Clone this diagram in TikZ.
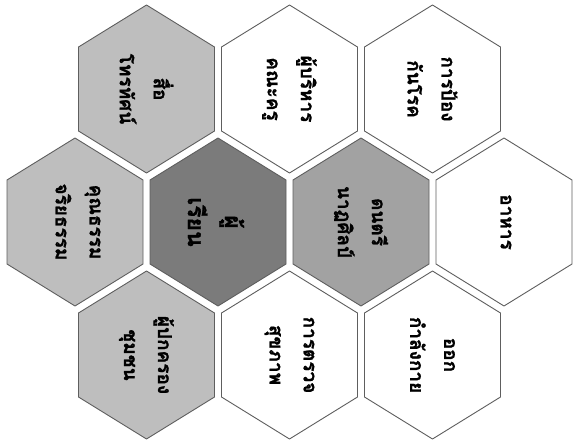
\documentclass[tikz,border=0pt]{standalone}
\usepackage{fontspec}
\newfontfamily\thaifont[Script=Thai, BoldFeatures={FakeBold=1.2}]{Loma}
\definecolor{hexlight}{HTML}{BEBEBE}
\definecolor{hexmid}{HTML}{A2A2A2}
\definecolor{hexdark}{HTML}{7B7B7B}
\definecolor{hexline}{HTML}{5E5E5E}

\begin{document}
\begin{tikzpicture}[x=1pt, y=-1pt,
  hexcell/.style={draw=hexline, line width=0.9pt, line join=round},
  celltext/.style={rotate=-90, align=center, text=black,
    font=\thaifont\bfseries\fontsize{19}{34}\selectfont},
  centertext/.style={celltext, font=\thaifont\bfseries\fontsize{23}{37}\selectfont},
]
  \useasboundingbox (0,0) rectangle (575,442);

  % honeycomb
  \foreach \x/\y/\c in {146.5/89/hexlight, 289.5/89/white, 432.5/89/white,
                        75/222/hexlight, 218/222/hexdark, 361/222/hexmid, 504/222/white,
                        146.5/355/hexlight, 289.5/355/white, 432.5/355/white}
    \draw[hexcell, fill=\c] (\x,\y) +(0,-84) -- +(68,-42) -- +(68,42)
      -- +(0,84) -- +(-68,42) -- +(-68,-42) -- cycle;

  % labels
  \node[celltext] (media) at (146.5,89) {สื่อ\\โทรทัศน์};
  \node[celltext] (staff) at (289.5,89) {ผู้บริหาร\\คณะครู};
  \node[celltext] (prevent) at (432.5,89) {การป้อง\\กันโรค};

  \node[celltext] (moral) at (78,222) {คุณธรรม\\จริยธรรม};
  \node[centertext] (learner) at (216,222) {ผู้\\เรียน};
  \node[celltext] (arts) at (361,222) {ดนตรี\\นาฏศิลป์};
  \node[celltext] (food) at (506,222) {อาหาร};

  \node[celltext] (family) at (146.5,355) {ผู้ปกครอง\\ชุมชน};
  \node[celltext] (check) at (289.5,355) {การตรวจ\\สุขภาพ};
  \node[celltext] (sport) at (432.5,355) {ออก\\กำลังกาย};
\end{tikzpicture}
\end{document}
